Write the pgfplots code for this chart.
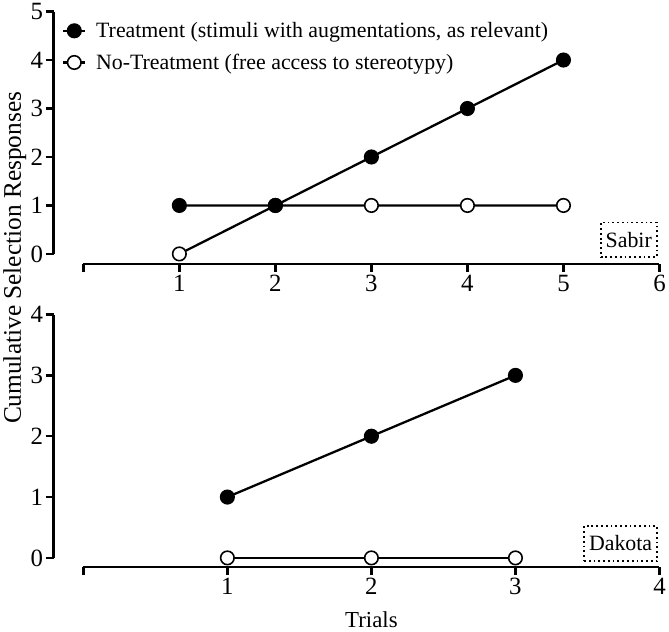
\documentclass[border=0pt]{standalone}
\usepackage{fontspec}
\setmainfont{Liberation Serif}
\usepackage{pgfplots}
\pgfplotsset{compat=1.18}
\tikzset{
  tag/.style={draw, line width=1.8pt, dash pattern=on 1.8pt off 3pt, font=\fontsize{22}{22}\selectfont, inner xsep=5pt, minimum height=35pt},
}
\begin{document}
\begin{tikzpicture}
\pgfplotsset{
  prism/.style={
    scale only axis, width=580pt,
    axis lines*=left,
    axis line style={line width=2.4pt},
    tick style={line width=2.4pt, black},
    major tick length=8pt,
    tick align=outside,
    axis y line shift=30pt,
    /pgf/number format/assume math mode=true,
    tick label style={font=\fontsize{25}{25}\selectfont},
    yticklabel style={xshift=1pt},
    clip=false,
    every axis plot/.append style={line width=2.3pt, black, mark size=6.8pt},
  },
  trt/.style={mark=*, mark options={fill=black, line width=1.6pt}},
  ctl/.style={mark=*, mark options={fill=white, line width=1.6pt}},
}
\begin{axis}[prism, height=244pt,
  xmin=0, xmax=6, ymin=0, ymax=5,
  xtick={0,...,6}, xticklabels={,1,2,3,4,5,6}, ytick={0,...,5},
  axis x line shift=10pt,
  reverse legend,
  legend style={draw=none, fill=none, font=\fontsize{22}{22}\selectfont,
    at={(axis description cs:-0.037,0.855)}, anchor=west, row sep=11pt,
    inner sep=0pt},
  legend cell align=left,
  legend image code/.code={\path[draw=none] (0pt,0pt) -- (31pt,0pt); \draw[mark repeat=2, mark phase=2, #1] plot coordinates {(0pt,0pt) (11pt,0pt) (22pt,0pt)};},
]
\addplot[ctl] coordinates {(1,0) (2,1) (3,1) (4,1) (5,1)};
\addlegendentry{No-Treatment (free access to stereotypy)}
\addplot[trt] coordinates {(1,1) (2,1) (3,2) (4,3) (5,4)};
\addlegendentry{Treatment (stimuli with augmentations, as relevant)}
\node[tag] at (axis cs:5.68,0.29) {Sabir};
\end{axis}
\begin{axis}[prism, height=245pt, at={(0,-306pt)},
  xmin=0, xmax=4, ymin=0, ymax=4,
  xtick={0,...,4}, xticklabels={,1,2,3,4}, ytick={0,...,4},
  axis x line shift=9pt,
  xlabel={Trials},
  xlabel style={font=\fontsize{23}{23}\selectfont, yshift=-10pt},
]
\addplot[ctl] coordinates {(1,0) (2,0) (3,0)};
\addplot[trt] coordinates {(1,1) (2,2) (3,3)};
\node[tag] at (axis cs:3.73,0.237) {Dakota};
\end{axis}
\node[rotate=90, font=\fontsize{25.5}{25.5}\selectfont] at (-69pt,-4pt) {Cumulative Selection Responses};
\end{tikzpicture}
\end{document}
